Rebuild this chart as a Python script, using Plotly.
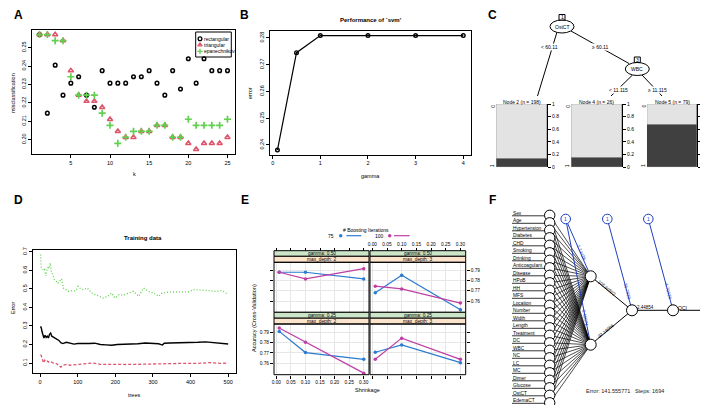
import math
import plotly.graph_objects as go

W, H = 708, 405
FONT = "Liberation Sans, Arial, sans-serif"

# ---------------- data ----------------
# Panel A: kknn misclassification
k_vals = list(range(1, 26))
rect_err = [0.2571, 0.2144, 0.2405, 0.2242, 0.2307, 0.2342, 0.2242, 0.2176, 0.2375, 0.2307,
            0.2307, 0.2307, 0.2342, 0.2342, 0.2375, 0.2307, 0.2242, 0.2375, 0.2275, 0.2440,
            0.2307, 0.2440, 0.2375, 0.2375, 0.2375]
tri_err = [0.2571, 0.2571, 0.2571, 0.2538, 0.2375, 0.2242, 0.2209, 0.2209, 0.2176, 0.2111,
           0.2045, 0.2013, 0.2013, 0.2045, 0.2045, 0.2078, 0.2078, 0.2013, 0.2013, 0.1980,
           0.1947, 0.1980, 0.1980, 0.1980, 0.2013]
epa_err = [0.2571, 0.2571, 0.2538, 0.2538, 0.2342, 0.2242, 0.2242, 0.2242, 0.2144, 0.2078,
           0.1980, 0.2013, 0.2045, 0.2045, 0.2045, 0.2078, 0.2078, 0.2013, 0.2013, 0.2111,
           0.2078, 0.2078, 0.2078, 0.2078, 0.2111]
a_yticks = [0.20, 0.21, 0.22, 0.23, 0.24, 0.25]
a_xticks = [5, 10, 15, 20, 25]

# Panel B: svm performance
gamma_vals = [0.1, 0.5, 1, 2, 3, 4]
svm_err = [0.2381, 0.2745, 0.2809, 0.2809, 0.2809, 0.2809]
b_yticks = [0.24, 0.25, 0.26, 0.27, 0.28]
b_xticks = [0, 1, 2, 3, 4]

# Panel C: decision tree
tree_nodes = ["Node 2 (n = 198)", "Node 4 (n = 26)", "Node 5 (n = 79)"]
prop_class1 = [0.137, 0.147, 0.674]
split1_var, split1_val = "OstCT", "60.11"
split2_var, split2_val = "WBC", "11.115"
c_ticks = [0, 0.2, 0.4, 0.6, 0.8, 1]

# Panel D: random forest training error
oob_trees = [1, 3, 5, 8, 10, 13, 16, 19, 22, 25, 28, 31, 35, 40, 45, 50, 55, 60, 70, 80,
             90, 100, 115, 130, 145, 160, 175, 190, 205, 220, 240, 260, 280, 300, 315, 325,
             330, 345, 365, 385, 400, 420, 440, 460, 480, 500]
oob_err = [0.298, 0.290, 0.270, 0.245, 0.235, 0.250, 0.238, 0.245, 0.235, 0.255, 0.262, 0.245,
           0.240, 0.232, 0.228, 0.222, 0.210, 0.205, 0.212, 0.205, 0.202, 0.205, 0.203, 0.205,
           0.207, 0.200, 0.198, 0.196, 0.200, 0.200, 0.201, 0.204, 0.208, 0.207, 0.204, 0.197,
           0.207, 0.208, 0.208, 0.208, 0.212, 0.212, 0.214, 0.210, 0.208, 0.203]
err0_trees = [1, 3, 6, 9, 12, 15, 18, 22, 26, 30, 35, 40, 45, 50, 55, 60, 70, 80, 90, 100,
              120, 140, 160, 180, 200, 230, 260, 300, 340, 380, 420, 450, 480, 500]
err0 = [0.145, 0.140, 0.120, 0.100, 0.115, 0.108, 0.112, 0.105, 0.110, 0.105, 0.100, 0.100,
        0.095, 0.085, 0.078, 0.088, 0.092, 0.088, 0.090, 0.088, 0.092, 0.100, 0.093, 0.092,
        0.093, 0.092, 0.093, 0.096, 0.097, 0.098, 0.098, 0.102, 0.098, 0.100]
err1_trees = [1, 3, 6, 9, 12, 15, 18, 21, 24, 27, 30, 34, 38, 42, 47, 52, 57, 62, 70, 75,
              85, 95, 101, 108, 115, 125, 137, 146, 155, 162, 168, 180, 190, 199, 210, 221,
              235, 248, 262, 275, 288, 302, 315, 324, 340, 360, 380, 395, 408, 430, 448, 466,
              484, 497, 500]
err1 = [0.686, 0.620, 0.610, 0.600, 0.605, 0.570, 0.600, 0.615, 0.610, 0.640, 0.590, 0.575,
        0.550, 0.545, 0.530, 0.540, 0.555, 0.505, 0.495, 0.487, 0.490, 0.490, 0.514, 0.500,
        0.496, 0.505, 0.478, 0.470, 0.460, 0.455, 0.451, 0.460, 0.478, 0.451, 0.469, 0.466,
        0.478, 0.487, 0.460, 0.505, 0.487, 0.478, 0.460, 0.478, 0.483, 0.483, 0.483, 0.485,
        0.496, 0.491, 0.491, 0.487, 0.491, 0.473, 0.470]
d_xticks = [0, 100, 200, 300, 400, 500]
d_yticks = [0.1, 0.2, 0.3, 0.4, 0.5, 0.6, 0.7]

# Panel E: gbm tuning (caret)
shrinkage = [0.01, 0.1, 0.3]
boost_iters = ["75", "100"]
e_panels = [  # (gamma strip, depth strip, acc 75, acc 100)
    ("gamma: 0.50", "max_depth: 2", [0.7881, 0.7881, 0.7816], [0.7881, 0.7816, 0.7916]),
    ("gamma: 0.50", "max_depth: 3", [0.7680, 0.7851, 0.7515], [0.7745, 0.7718, 0.7580]),
    ("gamma: 0.25", "max_depth: 2", [0.7907, 0.7703, 0.7638], [0.7939, 0.7803, 0.7505]),
    ("gamma: 0.25", "max_depth: 3", [0.7706, 0.7777, 0.7606], [0.7638, 0.7842, 0.7638]),
]
e_xticks = [0.00, 0.05, 0.10, 0.15, 0.20, 0.25, 0.30]
e_yticks = [0.76, 0.77, 0.78, 0.79]

# Panel F: neural network
input_names = ["Sex", "Age", "Hypertension", "Diabetes", "CHD", "Smoking", "Drinking",
               "Anticoagulant", "Disease", "HPoB", "HH", "MFS", "Location", "Number", "Width",
               "Length", "Treatment", "DC", "WBC", "NC", "LC", "MC", "Dimer", "Glucose",
               "OstCT", "EdemaCT"]
output_name = "OCI"
nn_error, nn_steps = "141.555771", "1694"
w_bias_h = ["-1.14426", "0.40071"]
w_h_l2 = ["105.60502", "-97.18086"]
w_bias_l2 = "-36.7829"
w_l2_out = "2.44854"
w_bias_out = "-4.70426"

# ---------------- helpers ----------------
def px(x): return x / W
def py(y): return 1 - y / H
def dx(a, b): return [a / W, b / W]
def dy(top, bottom): return [1 - bottom / H, 1 - top / H]

fig = go.Figure()
annotations = []
shapes = []

def text(t, x, y, size=5.5, bold=False, color="black", angle=0, xanchor="center",
         yanchor="middle", ref="paper", bg=None):
    if ref == "paper":
        d = dict(xref="paper", yref="paper", x=px(x), y=py(y))
    else:
        d = dict(xref="x11", yref="y11", x=x, y=y)
    d.update(text=("<b>%s</b>" % t) if bold else t, showarrow=False,
             font=dict(family=FONT, size=size, color=color), textangle=angle,
             xanchor=xanchor, yanchor=yanchor, borderpad=0)
    if bg:
        d["bgcolor"] = bg
    annotations.append(d)

def base_axis(**kw):
    d = dict(showgrid=False, zeroline=False, showline=True, mirror=True, linecolor="black",
             linewidth=1, ticks="outside", ticklen=3, tickwidth=1, tickcolor="black",
             tickfont=dict(family=FONT, size=5.5, color="black"), automargin=False,
             fixedrange=True)
    d.update(kw)
    return d

def ov_line(xs, ys, color="black", width=1, dash="solid"):
    fig.add_trace(go.Scatter(x=xs, y=ys, mode="lines", xaxis="x11", yaxis="y11",
                             line=dict(color=color, width=width, dash=dash),
                             hoverinfo="skip", showlegend=False))

def ov_circle(cx, cy, rx, ry, line="black", fill="white", width=1):
    shapes.append(dict(type="circle", xref="x11", yref="y11", x0=cx - rx, x1=cx + rx,
                       y0=cy - ry, y1=cy + ry, line=dict(color=line, width=width),
                       fillcolor=fill, layer="above"))

def ov_rect(x0, y0, x1, y1, line="black", fill="rgba(0,0,0,0)", width=1):
    shapes.append(dict(type="rect", xref="x11", yref="y11", x0=x0, x1=x1, y0=y0, y1=y1,
                       line=dict(color=line, width=width), fillcolor=fill, layer="above"))

RBLACK, RRED, RGREEN = "black", "#DF536B", "#61D04F"

# ---------------- Panel A ----------------
fig.add_trace(go.Scatter(x=k_vals, y=rect_err, mode="markers", xaxis="x", yaxis="y",
                         marker=dict(symbol="circle-open", size=3.6, color=RBLACK, line=dict(width=1.5)),
                         showlegend=False))
fig.add_trace(go.Scatter(x=k_vals, y=tri_err, mode="markers", xaxis="x", yaxis="y",
                         marker=dict(symbol="triangle-up-open", size=4.6, color=RRED, line=dict(width=1.5)),
                         showlegend=False))
fig.add_trace(go.Scatter(x=k_vals, y=epa_err, mode="markers", xaxis="x", yaxis="y",
                         marker=dict(symbol="cross-thin-open", size=5, color=RGREEN, line=dict(width=1.7)),
                         showlegend=False))
fig.update_layout(
    xaxis=base_axis(domain=dx(24, 227), range=[0.04, 25.96], tickvals=a_xticks, anchor="y"),
    yaxis=base_axis(domain=dy(22, 146), range=[0.1922, 0.2596], tickvals=a_yticks,
                    ticktext=["%.2f" % v for v in a_yticks], tickangle=-90, anchor="x"),
)
text("A", 10, 7, size=12, bold=True)
text("k", 126, 166, size=5.5)
text("misclassification", 5, 85, size=5.5, angle=-90)
# legend
ov_rect(187.7, 24, 223.3, 49)
leg_items = [("rectangular", "circle-open", RBLACK, 30.7), ("triangular", "triangle-up-open", RRED, 37),
             ("epanechnikov", "cross-thin-open", RGREEN, 43.3)]
for name, sym, col, yy in leg_items:
    fig.add_trace(go.Scatter(x=[192], y=[yy], mode="markers", xaxis="x11", yaxis="y11",
                             marker=dict(symbol=sym, size=3.8, color=col, line=dict(width=1.3)),
                             showlegend=False, hoverinfo="skip"))
    text(name, 195, yy, size=5, xanchor="left", ref="ov")

# ---------------- Panel B ----------------
fig.add_trace(go.Scatter(x=gamma_vals, y=svm_err, mode="lines+markers", xaxis="x2", yaxis="y2",
                         line=dict(color="black", width=1.2),
                         marker=dict(symbol="circle-open", size=3.6, color="black", line=dict(width=1.4)),
                         showlegend=False))
fig.update_layout(
    xaxis2=base_axis(domain=dx(262, 462.7), range=[-0.056, 4.156], tickvals=b_xticks, anchor="y2"),
    yaxis2=base_axis(domain=dy(23, 146.6), range=[0.2364, 0.2826], tickvals=b_yticks,
                     ticktext=["%.2f" % v for v in b_yticks], tickangle=-90, anchor="x2"),
)
text("B", 236.5, 7, size=12, bold=True)
text("Performance of `svm'", 363, 11.7, size=6, bold=True)
text("gamma", 362, 168, size=5.5)
text("error", 242, 85, size=5.5, angle=-90)

# ---------------- Panel C ----------------
text("C", 484, 7, size=12, bold=True)
c_boxes = [(488.3, 539), (563.3, 614), (639, 689.3)]
C_TOP, C_BOT = 96, 159.3
for i, (x0, x1) in enumerate(c_boxes):
    n = i + 3
    xa, ya = "xaxis%d" % n, "yaxis%d" % n
    p = prop_class1[i]
    fig.add_trace(go.Bar(x=[0], y=[p], base=[0], width=[1], xaxis="x%d" % n, yaxis="y%d" % n,
                         marker=dict(color="#404040", line=dict(color="#404040", width=0.6)),
                         showlegend=False))
    fig.add_trace(go.Bar(x=[0], y=[1 - p], base=[p], width=[1], xaxis="x%d" % n, yaxis="y%d" % n,
                         marker=dict(color="#E3E3E3", line=dict(color="#404040", width=0.6)),
                         showlegend=False))
    fig.layout[xa] = dict(domain=dx(x0, x1), range=[-0.5, 0.5], visible=False, anchor="y%d" % n,
                          fixedrange=True)
    fig.layout[ya] = base_axis(domain=dy(C_TOP, C_BOT), range=[0, 1], side="right", mirror=False,
                               tickvals=c_ticks, ticktext=["0", "0.2", "0.4", "0.6", "0.8", "1"],
                               anchor="x%d" % n, tickfont=dict(family=FONT, size=5))
    text(tree_nodes[i], (x0 + x1) / 2, 93.5, size=5, ref="ov")
    text("0", x0 - 4, 98.5, size=5, angle=-90, ref="ov")
    text("1", x0 - 4, 158, size=5, angle=-90, ref="ov")
# tree edges
ROOT = (554, 18.5)
N3 = (629.3, 61)
ov_line([549, 529.5], [24, 88])
ov_line([563, 621], [23, 55.5])
ov_line([624.5, 603], [67, 88])
ov_line([634, 654], [67, 88])
ov_circle(ROOT[0], ROOT[1], 12, 6.5)
ov_circle(N3[0], N3[1], 12, 6.5)
text(split1_var, ROOT[0], ROOT[1], size=5, ref="ov")
text(split2_var, N3[0], N3[1], size=5, ref="ov")
ov_rect(ROOT[0] - 3, 6.5, ROOT[0] + 3, 12, fill="white")
text("1", ROOT[0], 9.3, size=5, ref="ov")
ov_rect(N3[0] - 3, 49, N3[0] + 3, 54.5, fill="white")
text("3", N3[0], 51.8, size=5, ref="ov")
text("< " + split1_val, 541.5, 39.3, size=5, ref="ov", bg="white")
text("\u2265 " + split1_val, 592, 39.3, size=5, ref="ov", bg="white")
text("< " + split2_val, 610, 82, size=5, ref="ov", bg="white")
text("\u2265 " + split2_val, 649.5, 82, size=5, ref="ov", bg="white")

# ---------------- Panel D ----------------
fig.add_trace(go.Scatter(x=oob_trees, y=oob_err, mode="lines", xaxis="x6", yaxis="y6",
                         line=dict(color=RBLACK, width=1.4), showlegend=False))
fig.add_trace(go.Scatter(x=err0_trees, y=err0, mode="lines", xaxis="x6", yaxis="y6",
                         line=dict(color=RRED, width=1.3, dash="3px,2px"), showlegend=False))
fig.add_trace(go.Scatter(x=err1_trees, y=err1, mode="lines", xaxis="x6", yaxis="y6",
                         line=dict(color=RGREEN, width=1.3, dash="1px,2px"), showlegend=False))
fig.update_layout(
    xaxis6=base_axis(domain=dx(25, 227.7), range=[-18.96, 519.96], tickvals=d_xticks, anchor="y6"),
    yaxis6=base_axis(domain=dy(241.7, 365), range=[0.046, 0.712], tickvals=d_yticks,
                     ticktext=["%.1f" % v for v in d_yticks], tickangle=-90, anchor="x6"),
)
text("D", 10, 192, size=12, bold=True)
text("Training data", 135, 230, size=6, bold=True)
text("trees", 126, 386.7, size=5.5)
text("Error", 5, 300, size=5.5, angle=-90)

# ---------------- Panel E ----------------
text("E", 236.5, 192, size=12, bold=True)
BLUE, MAG = "#2B7BD0", "#BE3FA4"
cols = [(266, 361), (362, 457.7)]
rows = [(242.7, 248.3, 254.3, 304.3), (304.3, 310.2, 316, 366.7)]
e_axes = [7, 8, 9, 10]
for idx, (g_lab, d_lab, a75, a100) in enumerate(e_panels):
    r, c = divmod(idx, 2)
    n = e_axes[idx]
    x0, x1 = cols[c]
    s0, s1, p0, p1 = rows[r]
    for vals, col in ((a75, BLUE), (a100, MAG)):
        fig.add_trace(go.Scatter(x=shrinkage, y=vals, mode="lines+markers", xaxis="x%d" % n,
                                 yaxis="y%d" % n, line=dict(color=col, width=1.2),
                                 marker=dict(size=3.5, color=col), showlegend=False))
    xr = [-0.008, 0.318]
    xkw = dict(domain=dx(x0, x1), range=xr, tickvals=e_xticks,
               ticktext=["%.2f" % v for v in e_xticks], showgrid=True, gridcolor="#E6E6E6",
               gridwidth=1, showline=False, mirror=False, tickfont=dict(family=FONT, size=4.8))
    ykw = dict(domain=dy(p0, p1), range=[0.749, 0.7978], tickvals=e_yticks,
               ticktext=["%.2f" % v for v in e_yticks], showgrid=True, gridcolor="#E6E6E6",
               gridwidth=1, showline=False, mirror=False, tickfont=dict(family=FONT, size=4.8),
               anchor="x%d" % n)
    if r == 0:
        xkw.update(anchor="free", position=py(s0), side="top", showticklabels=(c == 1))
    else:
        xkw.update(anchor="y%d" % n, side="bottom", showticklabels=(c == 0))
    if c == 0:
        ykw.update(side="left", showticklabels=(r == 1))
    else:
        ykw.update(side="right", showticklabels=(r == 0))
    fig.layout["xaxis%d" % n] = base_axis(**xkw)
    fig.layout["yaxis%d" % n] = base_axis(**ykw)
    # strips and border
    shapes.append(dict(type="rect", xref="paper", yref="paper", x0=px(x0), x1=px(x1),
                       y0=py(s1), y1=py(s0), fillcolor="#CCE5C8", line=dict(color="black", width=1),
                       layer="above"))
    shapes.append(dict(type="rect", xref="paper", yref="paper", x0=px(x0), x1=px(x1),
                       y0=py(p0), y1=py(s1), fillcolor="#FCE3CB", line=dict(color="black", width=1),
                       layer="above"))
    shapes.append(dict(type="rect", xref="paper", yref="paper", x0=px(x0), x1=px(x1),
                       y0=py(p1), y1=py(p0), fillcolor="rgba(0,0,0,0)",
                       line=dict(color="black", width=1), layer="above"))
    text(g_lab, (x0 + x1) / 2, (s0 + s1) / 2, size=4.8)
    text(d_lab, (x0 + x1) / 2, (s1 + p0) / 2, size=4.8)
text("Shrinkage", 359.3, 381.7, size=5.5)
text("Accuracy (Cross-Validation)", 246, 310, size=5.5, angle=-90)
text("# Boosting Iterations", 358, 221.5, size=5)
for lab, col, tx, mx, lx0, lx1 in ((boost_iters[0], BLUE, 323.3, 332.7, 338.3, 353.3),
                                   (boost_iters[1], MAG, 371.7, 381.7, 386, 401.7)):
    text(lab, tx, 227.7, size=5, ref="ov")
    fig.add_trace(go.Scatter(x=[mx], y=[227.7], mode="markers", xaxis="x11", yaxis="y11",
                             marker=dict(size=3.5, color=col), showlegend=False, hoverinfo="skip"))
    ov_line([lx0, lx1], [227.7, 227.7], color=col, width=1.2)

# ---------------- Panel F ----------------
text("F", 484, 192, size=12, bold=True)
IN_X, IN_Y0, IN_DY, IN_R = 541.7, 207.3, 7.5, 5.2
H_X, H_Y = 582.7, [268.3, 336.7]
L2 = (624, 302.3)
OUT = (665, 302.3)
BIAS_X, BIAS_Y = [557.7, 599.3, 640.3], 211
in_y = [IN_Y0 + i * IN_DY for i in range(len(input_names))]
xs, ys = [], []
for yy in in_y:
    for hy in H_Y:
        xs += [IN_X, H_X, None]
        ys += [yy, hy, None]
ov_line(xs, ys, width=0.7)
xs, ys = [], []
for yy in in_y:
    xs += [504, IN_X, None]
    ys += [yy + 0.5, yy + 0.5, None]
ov_line(xs, ys, width=0.8)
for name, yy in zip(input_names, in_y):
    text(name, 504, yy - 2.2, size=4.8, xanchor="left", ref="ov")
ov_line([H_X, L2[0], None, H_X, L2[0]], [H_Y[0], L2[1], None, H_Y[1], L2[1]], width=1)
ov_line([L2[0], OUT[0]], [L2[1], OUT[1]], width=1)
ov_line([BIAS_X[0], H_X, None, BIAS_X[0], H_X], [BIAS_Y, H_Y[0], None, BIAS_Y, H_Y[1]],
        color="#1F3FBF", width=1)
ov_line([BIAS_X[1], L2[0]], [BIAS_Y, L2[1]], color="#1F3FBF", width=1)
ov_line([BIAS_X[2], OUT[0]], [BIAS_Y, OUT[1]], color="#1F3FBF", width=1)
annotations.append(dict(xref="x11", yref="y11", axref="x11", ayref="y11", x=706, y=OUT[1],
                        ax=OUT[0] + 5, ay=OUT[1], showarrow=True, arrowhead=2, arrowsize=0.6,
                        arrowwidth=1, arrowcolor="black", text=""))
for yy in in_y:
    ov_circle(IN_X, yy, IN_R, IN_R)
for hy in H_Y:
    ov_circle(H_X, hy, 5.5, 5.5)
ov_circle(L2[0], L2[1], 5.5, 5.5)
ov_circle(OUT[0], OUT[1], 5.5, 5.5)
for bx in BIAS_X:
    ov_circle(bx, BIAS_Y, 4.8, 4.8, line="#1F3FBF")
    text("1", bx, BIAS_Y, size=5, color="#1F3FBF", ref="ov")
text(output_name, 674, 299.5, size=5, ref="ov")
def along(lbl, p0, p1, t, color="black"):
    x = p0[0] + (p1[0] - p0[0]) * t
    y = p0[1] + (p1[1] - p0[1]) * t
    ang = math.degrees(math.atan2(p1[1] - p0[1], p1[0] - p0[0]))
    if ang > 90: ang -= 180
    if ang < -90: ang += 180
    text(lbl, x, y - 1.5, size=4.5, color=color, angle=ang, ref="ov")
along(w_bias_h[0], (BIAS_X[0], BIAS_Y), (H_X, H_Y[0]), 0.6, "#1F3FBF")
along(w_bias_h[1], (BIAS_X[0], BIAS_Y), (H_X, H_Y[1]), 0.8, "#1F3FBF")
along(w_h_l2[0], (H_X, H_Y[0]), L2, 0.4)
along(w_h_l2[1], (H_X, H_Y[1]), L2, 0.35)
along(w_bias_l2, (BIAS_X[1], BIAS_Y), L2, 0.8, "#1F3FBF")
along(w_bias_out, (BIAS_X[2], BIAS_Y), OUT, 0.8, "#1F3FBF")
text(w_l2_out, 637, 299.5, size=4.5, ref="ov")
text("Error: %s   Steps: %s" % (nn_error, nn_steps), 616.7, 382.7, size=5.5, color="#222222")

# overlay axis in pixel units for diagrams/legends
fig.layout["xaxis11"] = dict(domain=[0, 1], range=[0, W], visible=False, fixedrange=True, anchor="y11")
fig.layout["yaxis11"] = dict(domain=[0, 1], range=[H, 0], visible=False, fixedrange=True, anchor="x11")

fig.update_layout(width=W, height=H, margin=dict(l=0, r=0, t=0, b=0), paper_bgcolor="white",
                  plot_bgcolor="rgba(0,0,0,0)", showlegend=False, annotations=annotations,
                  shapes=shapes, font=dict(family=FONT, color="black"), bargap=0,
                  barmode="overlay")
fig.write_html("out.html")
